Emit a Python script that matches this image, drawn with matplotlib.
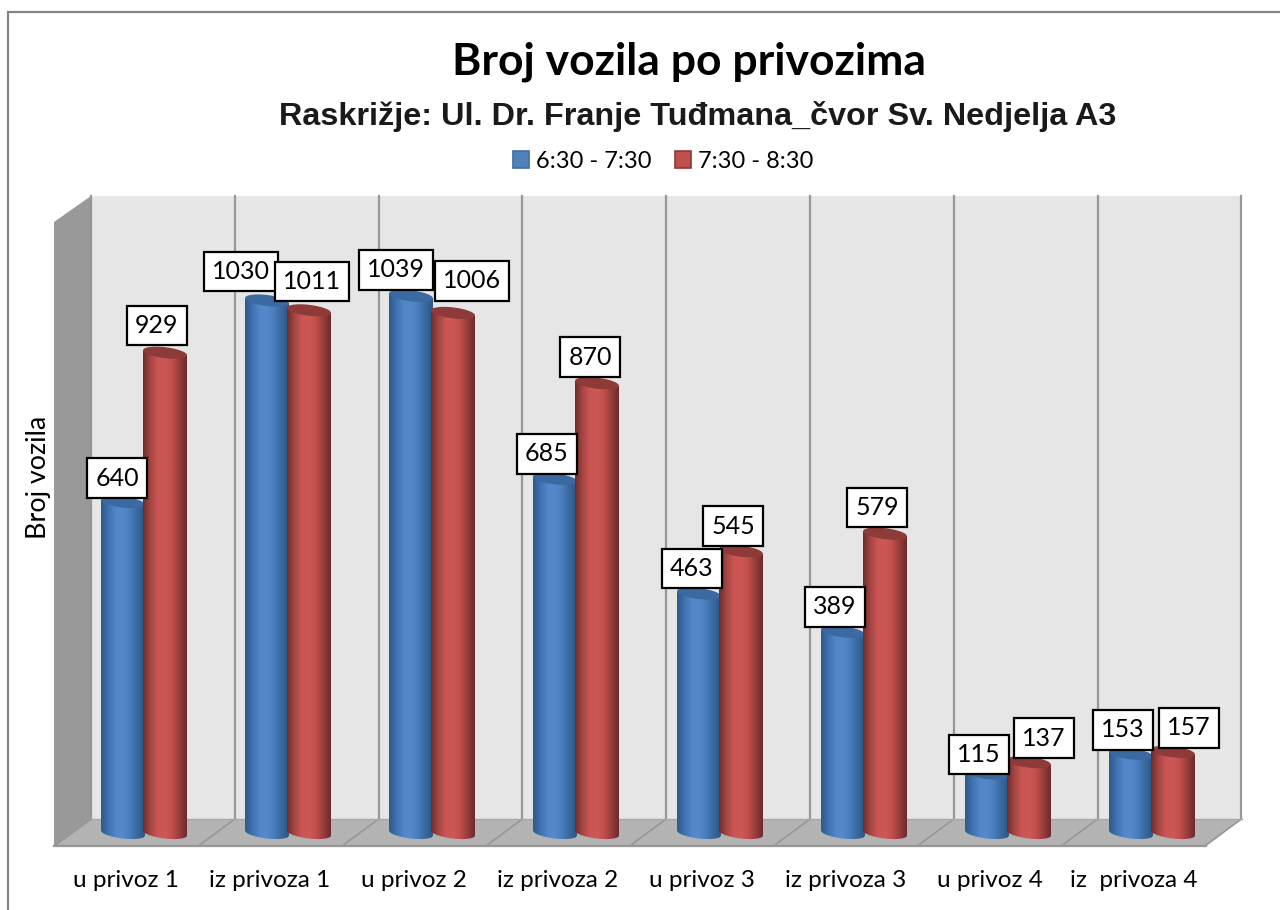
import numpy as np
import matplotlib
matplotlib.use('Agg')
import matplotlib.pyplot as plt
from matplotlib.patches import Polygon, Patch
from matplotlib.colors import LinearSegmentedColormap

plt.rcParams['font.family'] = ['Lato', 'DejaVu Sans']

categories = ['u privoz 1', 'iz privoza 1', 'u privoz 2', 'iz privoza 2',
              'u privoz 3', 'iz privoza 3', 'u privoz 4', 'iz  privoza 4']
series_names = ['6:30 - 7:30', '7:30 - 8:30']
values_1 = [640, 1030, 1039, 685, 463, 389, 115, 153]
values_2 = [929, 1011, 1006, 870, 545, 579, 137, 157]

# label box offsets from the top of each bar, in pixels
offsets_1 = [(-6, 24), (-26, 29), (-15, 26), (-8, 25), (-7, 25), (-8, 25), (-8, 19), (-8, 24)]
offsets_2 = [(-8, 27), (3, 29), (19, 32), (-7, 26), (-8, 25), (-8, 26), (15, 24), (16, 24)]

blue_grad = ['#2f5a8c', '#3f72ae', '#5186c8', '#5589cb', '#4a7dbb', '#3a689f', '#2e5688']
red_grad = ['#6f2c2b', '#a54644', '#cb5553', '#cf5856', '#bf4f4d', '#973e3c', '#6e2b2a']
blue_top = '#3b6aa2'
red_top = '#8e3a38'

W, H = 1280, 910
fig = plt.figure(figsize=(W / 100, H / 100), dpi=100)

# pixel axes for the frame and the walls of the chart
bg = fig.add_axes([0, 0, 1, 1])
bg.set_xlim(0, W)
bg.set_ylim(H, 0)
bg.axis('off')

bg.plot([8, 8, W], [H, 11.5, 11.5], color='#858585', lw=1.6, solid_joinstyle='miter')

bg.add_patch(Polygon([(91, 196), (1242, 196), (1242, 819), (91, 819)], fc='#e6e6e6', ec='none'))
bg.add_patch(Polygon([(54, 222), (91, 196), (91, 819), (54, 846)], fc='#999999', ec='none'))
bg.add_patch(Polygon([(54, 846), (91, 819), (1242, 819), (1206, 846)], fc='#b3b3b3', ec='none'))
for i in range(9):
    gx = 91 + 143.8 * i
    bg.plot([gx, gx], [196, 819], color='#979797', lw=1.6)
    bg.plot([gx, gx - 36.5], [819, 846], color='#979797', lw=1.2)
bg.plot([54, 1206], [846, 846], color='#979797', lw=1.6)
bg.plot([91, 1242], [819, 819], color='#a8a8a8', lw=1)

bg.text(689, 62, 'Broj vozila po privozima', fontsize=32, fontweight='bold',
        ha='center', va='center', color='black')
bg.text(698, 117, 'Raskrižje: Ul. Dr. Franje Tuđmana_čvor Sv. Nedjelja A3', fontsize=23.3,
        fontweight='bold', family='Liberation Sans', ha='center', va='center', color='#1a1a1a')

# value axes, group k is centred at 144 + 144 k pixels and zero sits at y = 833
px_y = 0.517
y_low, y_high = -40, 1200
ax = fig.add_axes([72 / W, (H - 833 + y_low * px_y) / H, 1152 / W, (y_high - y_low) * px_y / H])
ax.patch.set_alpha(0)
for s in ax.spines.values():
    s.set_visible(False)


def cylinder(xc, value, grad, top_col, z):
    hw = 22 / 144
    b = 5.5 / px_y
    tilt = 2.5 / px_y
    t = np.linspace(-1, 1, 60)
    xs = xc + hw * t
    front = b * np.sqrt(1 - t ** 2)
    slope = -tilt * t
    outline = np.vstack([np.column_stack([xs, value + slope]),
                         np.column_stack([xs[::-1], (slope - front)[::-1]])])
    cmap = LinearSegmentedColormap.from_list('c', grad)
    im = ax.imshow(np.linspace(0, 1, 64).reshape(1, -1), cmap=cmap, aspect='auto',
                   extent=[xc - hw, xc + hw, -b - tilt, value + b + tilt], zorder=z)
    im.set_clip_path(Polygon(outline, transform=ax.transData))
    lid = np.vstack([np.column_stack([xs, value + slope + front]),
                     np.column_stack([xs[::-1], (value + slope - front)[::-1]])])
    ax.add_patch(Polygon(lid, fc=top_col, ec='none', zorder=z + 0.1))


x = np.arange(len(categories))
shift = 21 / 144
for k in x:
    cylinder(k - shift, values_1[k], blue_grad, blue_top, 2)
    cylinder(k + shift, values_2[k], red_grad, red_top, 3)

box = dict(boxstyle='square,pad=0.33', fc='white', ec='black', lw=1.6)
for k in x:
    ax.annotate(str(values_1[k]), xy=(k - shift, values_1[k]), xytext=offsets_1[k],
                textcoords='offset pixels', ha='center', va='center', fontsize=18,
                bbox=box, zorder=10)
for k in x:
    ax.annotate(str(values_2[k]), xy=(k + shift, values_2[k]), xytext=offsets_2[k],
                textcoords='offset pixels', ha='center', va='center', fontsize=18,
                bbox=box, zorder=11)

ax.set_yticks([])
ax.set_xticks(x - 18 / 144)
ax.set_xticklabels(categories, fontsize=17.5)
ax.tick_params(axis='x', length=0, pad=12)
ax.set_ylabel('Broj vozila', fontsize=19.4)
ax.yaxis.set_label_coords(-21 / 1152, (833 - y_low * px_y - 477) / ((y_high - y_low) * px_y))
ax.set_xlim(-0.5, 7.5)
ax.set_ylim(y_low, y_high)

handles = [Patch(fc='#4f81bd', ec='#3d6da6', lw=1.2), Patch(fc='#c0504d', ec='#8e3a38', lw=1.2)]
fig.legend(handles, series_names, ncol=2, loc='center', bbox_to_anchor=(663 / W, 1 - 161 / H),
           frameon=False, fontsize=17, handlelength=0.7, handleheight=0.7,
           handletextpad=0.3, columnspacing=0.97, borderpad=0, borderaxespad=0)

fig.savefig('out.png', dpi=100)
plt.close()
